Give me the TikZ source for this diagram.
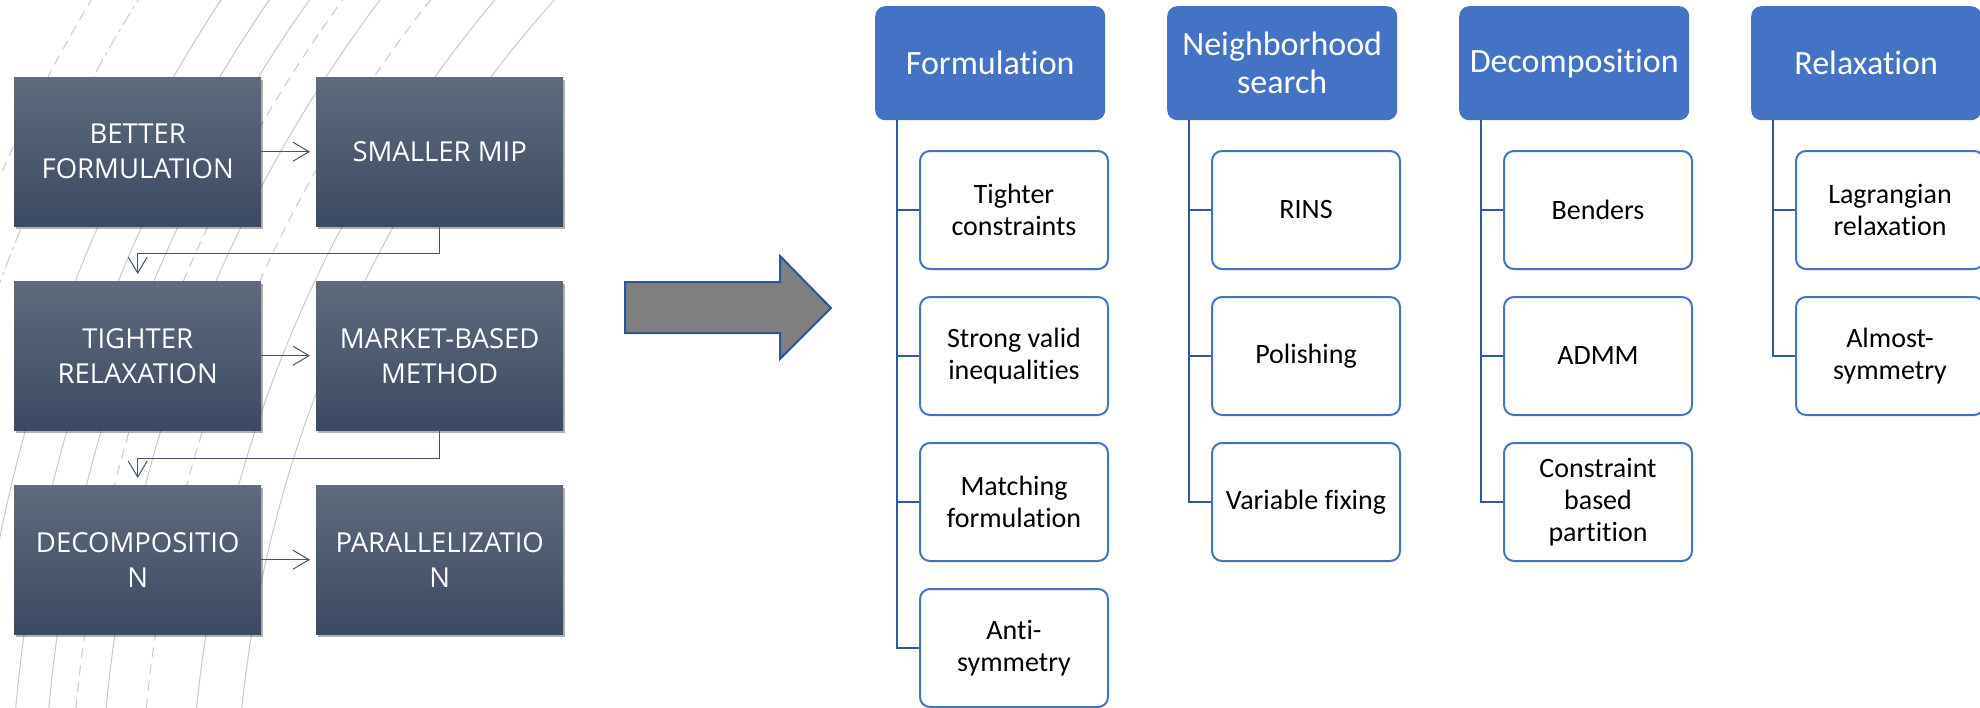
\documentclass[tikz,border=0pt]{standalone}
\usepackage{fontspec}
\setmainfont{Carlito}[Ligatures=NoCommon]
\newfontfamily\capsfont{Open Sans}
\usetikzlibrary{arrows.meta,shadows,calc}

\definecolor{slatetop}{RGB}{95,106,124}
\definecolor{slatebot}{RGB}{59,74,99}
\definecolor{slateline}{RGB}{68,84,106}
\definecolor{hdrblue}{RGB}{68,114,196}
\definecolor{connblue}{RGB}{50,88,163}
\definecolor{arcgray}{RGB}{202,202,202}
\definecolor{arrowgray}{RGB}{127,127,127}
\definecolor{arrowedge}{RGB}{47,85,151}

\begin{document}
\begin{tikzpicture}[x=1pt,y=-1pt,
  stage/.style={anchor=north west, minimum width=247pt, minimum height=149pt,
    inner sep=0pt, top color=slatetop, bottom color=slatebot, draw=none,
    text=white, font=\capsfont\fontsize{27.5}{35}\selectfont, align=center,
    drop shadow={shadow xshift=2pt, shadow yshift=-3pt, opacity=.3, fill=black}},
  flow/.style={draw=slateline, line width=1pt,
    -{Straight Barb[length=16pt,width=19pt,line width=1pt]}},
  header/.style={anchor=north west, minimum width=230pt, minimum height=114pt,
    inner sep=0pt, fill=hdrblue, rounded corners=10pt, text=white,
    font=\fontsize{34}{38}\selectfont, align=center},
  item/.style={anchor=north west, minimum width=188pt, minimum height=118pt,
    inner sep=0pt, draw=hdrblue, line width=2pt, fill=white, rounded corners=10pt,
    font=\fontsize{28}{31.7}\selectfont, align=center},
  branch/.style={draw=connblue, line width=2.5pt},
  arcline/.style={draw=arcgray, line width=1pt},
  dashline/.style={arcline, dash pattern=on 10pt off 7pt},
  dotline/.style={arcline, dash pattern=on 14pt off 5pt on 3pt off 5pt}
]
\useasboundingbox (0,0) rectangle (1980,707);
\fill[white] (0,0) rectangle (1980,707);

% decorative sweeping arcs behind the flow chart
\begin{scope}
  \clip (0,0) rectangle (600,707);
  \coordinate (hub) at (1500,840);
  \draw[dashline] (hub) circle[radius=1640pt];
  \draw[dotline]  (hub) circle[radius=1600pt];
  \draw[arcline]  (hub) circle[radius=1530pt];
  \draw[arcline]  (hub) circle[radius=1490pt];
  \draw[arcline]  (hub) circle[radius=1457pt];
  \draw[dashline] (hub) circle[radius=1430pt];
  \draw[arcline]  (hub) circle[radius=1400pt];
  \draw[dashline] (hub) circle[radius=1360pt];
  \draw[arcline]  (hub) circle[radius=1310pt];
  \draw[arcline]  (hub) circle[radius=1265pt];
\end{scope}

% flow of stages
\node[stage] (b1) at (14,77)  {BETTER\\FORMULATION};
\node[stage] (b2) at (316,77) {SMALLER MIP};
\node[stage] (b3) at (14,281) {TIGHTER\\RELAXATION};
\node[stage] (b4) at (316,281) {MARKET-BASED\\METHOD};
\node[stage] (b5) at (14,485) {DECOMPOSITIO\\N};
\node[stage] (b6) at (316,485) {PARALLELIZATIO\\N};

\draw[flow, shorten >=6pt] (b1.east) -- (b2.west);
\draw[flow, shorten >=6pt] (b3.east) -- (b4.west);
\draw[flow, shorten >=6pt] (b5.east) -- (b6.west);
\draw[flow, shorten >=7pt] (b2.south) -- ++(0,27) -| (b3.north);
\draw[flow, shorten >=7pt] (b4.south) -- ++(0,28) -| (b5.north);

% block arrow
\draw[fill=arrowgray, draw=arrowedge, line width=2pt, line join=miter]
  (625,282) -- (780,282) -- (780,256) -- (831,308) -- (780,359) -- (780,333) -- (625,333) -- cycle;

% category headers
\node[header] (h1) at (875,6)  {Formulation};
\node[header] (h2) at (1167,6) {Neighborhood\\search};
\node[header] (h3) at (1459,6) {Decomposition};
\node[header] (h4) at (1751,6) {Relaxation};

% category items
\node[item] (c11) at (919,150) {Tighter\\constraints};
\node[item] (c12) at (919,296) {Strong valid\\inequalities};
\node[item] (c13) at (919,442) {Matching\\formulation};
\node[item] (c14) at (919,588) {Anti-\\symmetry};

\node[item] (c21) at (1211,150) {RINS};
\node[item] (c22) at (1211,296) {Polishing};
\node[item] (c23) at (1211,442) {Variable fixing};

\node[item] (c31) at (1503,150) {Benders};
\node[item] (c32) at (1503,296) {ADMM};
\node[item] (c33) at (1503,442) {Constraint\\based\\partition};

\node[item] (c41) at (1795,150) {Lagrangian\\relaxation};
\node[item] (c42) at (1795,296) {Almost-\\symmetry};

% branch connectors
\foreach \c in {c11,c12,c13,c14}
  \draw[branch] ($(h1.south west)+(22,0)$) |- (\c.west);
\foreach \c in {c21,c22,c23}
  \draw[branch] ($(h2.south west)+(22,0)$) |- (\c.west);
\foreach \c in {c31,c32,c33}
  \draw[branch] ($(h3.south west)+(22,0)$) |- (\c.west);
\foreach \c in {c41,c42}
  \draw[branch] ($(h4.south west)+(22,0)$) |- (\c.west);
\end{tikzpicture}
\end{document}
